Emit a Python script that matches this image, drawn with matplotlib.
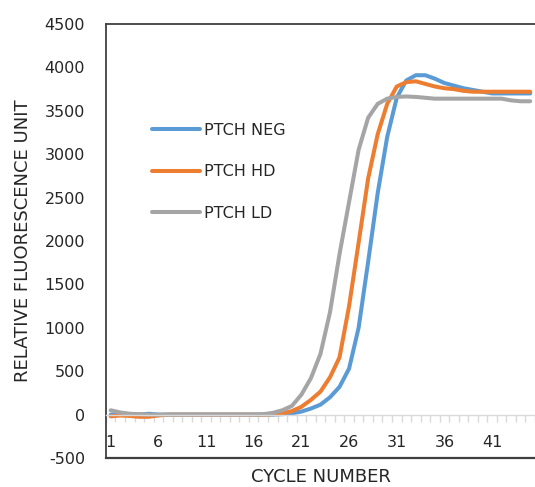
import numpy as np
import matplotlib
matplotlib.use('Agg')
import matplotlib.pyplot as plt

plt.rcParams['axes.unicode_minus'] = False

cycles = np.arange(1, 46)

neg = [0, 0, -5, 0, 10, 0, 0, 0, 0, 0,
       0, 0, 0, 0, 0, 0, 0, 0, 5, 15,
       35, 70, 115, 200, 320, 530, 1000, 1760, 2550, 3200,
       3650, 3850, 3910, 3910, 3870, 3820, 3790, 3760, 3740, 3720,
       3700, 3700, 3700, 3700, 3700]
hd = [-20, -10, -15, -25, -25, -10, 0, 0, 0, 0,
      0, 0, 0, 0, 0, 0, 0, 5, 15, 40,
      90, 170, 265, 430, 660, 1250, 1980, 2720, 3230, 3580,
      3780, 3830, 3840, 3810, 3780, 3760, 3750, 3730, 3720, 3720,
      3720, 3720, 3720, 3720, 3720]
ld = [50, 25, 10, 5, 0, 0, 0, 0, 0, 0,
      0, 0, 0, 0, 0, 0, 5, 20, 50, 100,
      230, 420, 700, 1180, 1850, 2450, 3050, 3420, 3580, 3640,
      3660, 3665, 3660, 3650, 3640, 3640, 3640, 3640, 3640, 3640,
      3640, 3640, 3620, 3610, 3610]

series = [('PTCH NEG', neg, '#5B9BD5'),
          ('PTCH HD', hd, '#ED7D31'),
          ('PTCH LD', ld, '#A5A5A5')]

xticks = np.arange(1, 46, 5)
yticks = np.arange(-500, 4501, 500)

txt = '#262626'
frame = '#404040'

fig = plt.figure(figsize=(5.35, 4.87), dpi=100)
ax = fig.add_axes([0.198, 0.0595, 0.802, 0.8912])

for name, vals, col in series:
    ax.plot(cycles, vals, color=col, lw=2.9, label=name, solid_capstyle='round')

ax.set_xlim(0.5, 45.5)
ax.set_ylim(-500, 4500)
ax.set_yticks(yticks)
ax.set_xticks(xticks)
ax.set_xticks(np.arange(0.5, 46, 1), minor=True)

# category axis crosses at zero
ax.spines['bottom'].set_position(('data', 0))
ax.spines['bottom'].set_color('#D9D9D9')
ax.spines['bottom'].set_linewidth(1.0)
ax.spines['right'].set_visible(False)
for s in ('left', 'top'):
    ax.spines[s].set_color(frame)
    ax.spines[s].set_linewidth(1.3)
ax.axhline(-500, color=frame, lw=1.6, clip_on=False)

ax.tick_params(axis='x', which='major', length=0, pad=15, labelsize=11.5, labelcolor=txt)
ax.tick_params(axis='x', which='minor', length=5, width=1, color='#D9D9D9', direction='out')
ax.tick_params(axis='y', length=0, pad=15, labelsize=11.5, labelcolor=txt)

ax.set_xlabel('CYCLE NUMBER', fontsize=13, color=txt)
ax.xaxis.set_label_coords(0.5, -0.022)
ax.set_ylabel('RELATIVE FLUORESCENCE UNIT', fontsize=13, color=txt)
ax.yaxis.set_label_coords(-0.172, 0.5)

ax.legend(loc='upper left', bbox_to_anchor=(0.107, 0.772), frameon=False,
          fontsize=11.5, handlelength=3.0, handletextpad=0.25, labelspacing=1.65,
          borderpad=0, borderaxespad=0, labelcolor=txt)

fig.savefig('out.png', dpi=100)
